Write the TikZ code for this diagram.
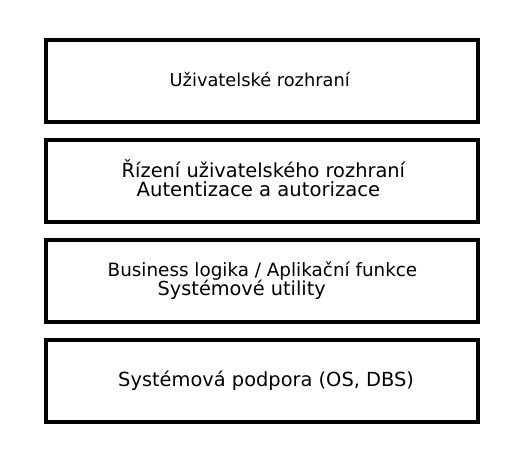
\documentclass[tikz,border=0pt]{standalone}
\usepackage{fontspec}
\setmainfont{DejaVu Sans}
\tikzset{
  layer/.style={draw=black, line width=3.6pt, fill=white},
  lbl/.style={anchor=base west, inner sep=0pt, font=\fontsize{#1}{22}\selectfont},
  lbl/.default=18.5
}
\begin{document}
\begin{tikzpicture}[x=1pt,y=-1pt]
\useasboundingbox (0,0) rectangle (525,464);
\draw[layer] (46,40) rectangle (478,122);
\draw[layer] (46,140) rectangle (478,222);
\draw[layer] (46,240) rectangle (478,322);
\draw[layer] (46,340) rectangle (478,422);
\node[lbl=17.8] (t1) at (169.5,86.5) {Uživatelské rozhraní};
\node[lbl=19.4] (t2a) at (121.5,177.7) {Řízení uživatelského rozhraní};
\node[lbl=19.6] (t2b) at (136.5,196.7) {Autentizace a autorizace};
\node[lbl=18.35] (t3a) at (107.5,276.7) {Business logika / Aplikační funkce};
\node[lbl=19.3] (t3b) at (157.5,295.7) {Systémové utility};
\node[lbl=19.4] (t4) at (118,386.5) {Systémová podpora (OS, DBS)};
\end{tikzpicture}
\end{document}
